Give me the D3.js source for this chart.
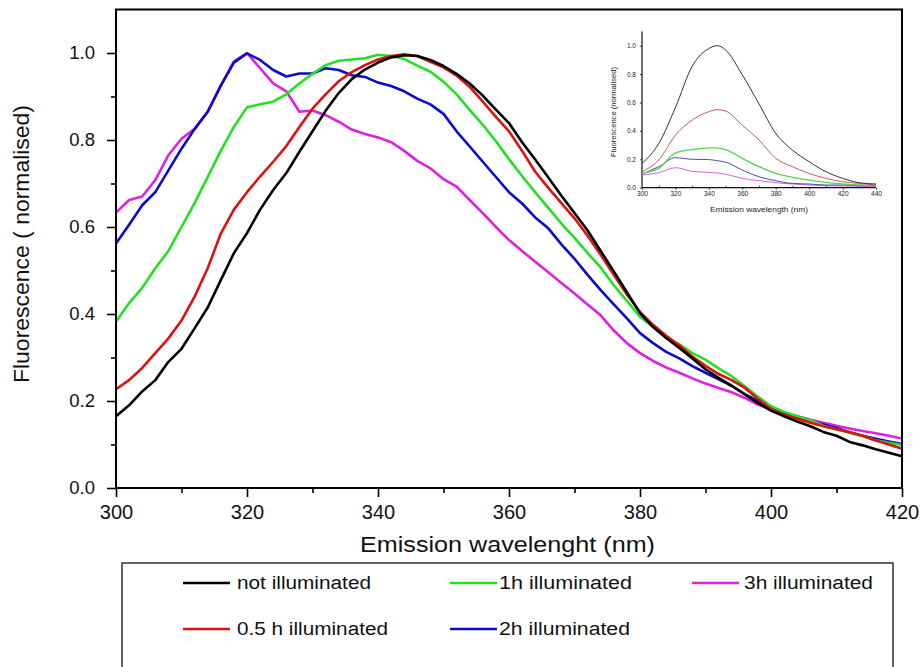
<!DOCTYPE html>
<html><head><meta charset="utf-8">
<script src="https://cdn.jsdelivr.net/npm/d3@7/dist/d3.min.js"></script>
<style>body{margin:0;background:#fff;} svg{display:block;font-family:Arial,"Liberation Sans",sans-serif;}</style>
</head><body><svg id="c" width="922" height="667"></svg>
<script>
// ---------- main chart data ----------
const wavelengths = [300,302,304,306,308,310,312,314,316,318,320,322,324,326,328,330,332,334,336,338,340,342,344,346,348,350,352,354,356,358,360,362,364,366,368,370,372,374,376,378,380,382,384,386,388,390,392,394,396,398,400,402,404,406,408,410,412,414,416,418,420];
const notIlluminated = [0.165,0.19,0.222,0.248,0.29,0.32,0.367,0.415,0.478,0.54,0.586,0.64,0.685,0.724,0.773,0.82,0.867,0.908,0.94,0.962,0.978,0.99,0.995,0.993,0.984,0.97,0.952,0.93,0.902,0.87,0.839,0.795,0.755,0.714,0.672,0.632,0.592,0.545,0.498,0.45,0.402,0.37,0.345,0.322,0.298,0.273,0.253,0.235,0.215,0.195,0.178,0.165,0.153,0.142,0.129,0.12,0.106,0.098,0.089,0.081,0.073];
const illum05h = [0.227,0.248,0.276,0.31,0.344,0.385,0.44,0.505,0.585,0.64,0.68,0.716,0.75,0.786,0.83,0.872,0.905,0.935,0.956,0.972,0.985,0.993,0.997,0.993,0.98,0.967,0.948,0.922,0.888,0.853,0.82,0.775,0.727,0.69,0.655,0.62,0.58,0.536,0.49,0.445,0.405,0.375,0.35,0.328,0.302,0.281,0.262,0.248,0.23,0.205,0.182,0.168,0.16,0.15,0.142,0.135,0.128,0.12,0.109,0.1,0.09];
const illum1h = [0.382,0.425,0.46,0.505,0.545,0.6,0.655,0.715,0.775,0.83,0.875,0.882,0.888,0.905,0.93,0.952,0.972,0.982,0.985,0.988,0.996,0.993,0.986,0.971,0.957,0.934,0.905,0.869,0.835,0.797,0.756,0.717,0.68,0.644,0.608,0.575,0.54,0.507,0.466,0.43,0.394,0.37,0.345,0.33,0.31,0.295,0.275,0.257,0.234,0.21,0.188,0.175,0.165,0.155,0.143,0.135,0.127,0.119,0.11,0.104,0.099];
const illum2h = [0.562,0.605,0.65,0.68,0.73,0.78,0.825,0.865,0.925,0.978,0.999,0.984,0.961,0.946,0.953,0.953,0.965,0.961,0.949,0.945,0.932,0.924,0.912,0.895,0.882,0.86,0.82,0.785,0.75,0.715,0.68,0.654,0.622,0.597,0.56,0.527,0.49,0.455,0.422,0.39,0.356,0.333,0.313,0.298,0.28,0.265,0.25,0.235,0.216,0.2,0.183,0.17,0.16,0.152,0.146,0.138,0.128,0.12,0.113,0.107,0.101];
const illum3h = [0.633,0.662,0.67,0.708,0.765,0.803,0.826,0.865,0.925,0.981,1.0,0.965,0.93,0.912,0.865,0.868,0.857,0.842,0.824,0.814,0.806,0.795,0.775,0.752,0.735,0.71,0.693,0.662,0.632,0.6,0.57,0.545,0.52,0.496,0.471,0.447,0.422,0.397,0.362,0.333,0.31,0.292,0.277,0.265,0.252,0.24,0.23,0.22,0.207,0.192,0.181,0.172,0.165,0.157,0.15,0.143,0.137,0.131,0.126,0.12,0.114];
const seriesNames = ["not illuminated","0.5 h illuminated","1h illuminated","2h illuminated","3h illuminated"];
const seriesColors = ["#000000","#e01010","#22e022","#0a0acc","#e020e0"];
const xMajorTicks = [300,320,340,360,380,400,420];
const xMinorTicks = [310,330,350,370,390,410];
const yMajorTicks = [0.0,0.2,0.4,0.6,0.8,1.0];
const yMinorTicks = [0.1,0.3,0.5,0.7,0.9];

// ---------- inset data ----------
const insetWavelengths = [300,310,320,330,340,345,350,360,370,380,390,400,410,420,430,440];
const insetNot = [0.171,0.31,0.565,0.855,0.98,1.0,0.97,0.795,0.59,0.383,0.265,0.183,0.113,0.066,0.035,0.026];
const inset05h = [0.113,0.195,0.37,0.476,0.535,0.55,0.54,0.44,0.336,0.207,0.148,0.1,0.066,0.042,0.03,0.019];
const inset1h = [0.101,0.136,0.245,0.268,0.28,0.28,0.268,0.207,0.148,0.101,0.073,0.054,0.038,0.026,0.019,0.014];
const inset2h = [0.096,0.148,0.211,0.2,0.198,0.19,0.18,0.124,0.077,0.049,0.03,0.026,0.019,0.019,0.016,0.014];
const inset3h = [0.089,0.106,0.141,0.115,0.108,0.104,0.095,0.066,0.049,0.035,0.026,0.019,0.014,0.012,0.009,0.007];
const insetColors = ["#1a1a1a","#c84848","#4cd84c","#3a3aa8","#cc55cc"];
const insetXTicks = [300,320,340,360,380,400,420,440];
const insetXMinor = [310,330,350,370,390,410,430];
const insetYTicks = [0.0,0.2,0.4,0.6,0.8,1.0];

const svg = d3.select("#c");
const x = d3.scaleLinear().domain([300,420]).range([116,902]);
const y = d3.scaleLinear().domain([0,1.1]).range([488,9.5]);

// axes
const gxMinor = svg.append("g").attr("transform","translate(0,488)")
  .call(d3.axisBottom(x).tickValues(xMinorTicks).tickSize(5).tickSizeOuter(0).tickFormat(""));
const gx = svg.append("g").attr("transform","translate(0,488)")
  .call(d3.axisBottom(x).tickValues(xMajorTicks).tickSize(9).tickSizeOuter(0).tickPadding(8).tickFormat(d3.format("d")));
const gyMinor = svg.append("g").attr("transform","translate(116,0)")
  .call(d3.axisLeft(y).tickValues(yMinorTicks).tickSize(5).tickSizeOuter(0).tickFormat(""));
const gy = svg.append("g").attr("transform","translate(116,0)")
  .call(d3.axisLeft(y).tickValues(yMajorTicks).tickSize(9).tickSizeOuter(0).tickPadding(12).tickFormat(d3.format(".1f")));
[gxMinor,gx,gyMinor,gy].forEach(g=>{
  g.select(".domain").remove();
  g.selectAll(".tick line").attr("stroke","#000").attr("stroke-width",1.6);
});
gx.selectAll(".tick text").attr("font-size",20).attr("fill","#111").attr("font-family","Arial,'Liberation Sans',sans-serif");
gy.selectAll(".tick text").attr("font-size",18.5).attr("fill","#111").attr("font-family","Arial,'Liberation Sans',sans-serif");

// lines
const line = d3.line().x((d,i)=>x(wavelengths[i])).y(d=>y(d));
const allSeries = [notIlluminated, illum05h, illum1h, illum2h, illum3h];
const drawOrder = [4,3,2,1,0];
drawOrder.forEach(k=>{
  svg.append("path").datum(allSeries[k]).attr("d",line)
    .attr("fill","none").attr("stroke",seriesColors[k]).attr("stroke-width",2.6)
    .attr("stroke-linejoin","round");
});

// frame
svg.append("rect").attr("x",x(300)).attr("y",y(1.1)).attr("width",x(420)-x(300)).attr("height",y(0)-y(1.1))
  .attr("fill","none").attr("stroke","#000").attr("stroke-width",2);

// titles
svg.append("text").attr("x",360).attr("y",552).attr("font-size",22).attr("fill","#111")
  .attr("textLength",295).attr("lengthAdjust","spacingAndGlyphs").text("Emission wavelenght (nm)");
svg.append("text").attr("transform","translate(29,244) rotate(-90)").attr("text-anchor","middle")
  .attr("font-size",22).attr("fill","#111").attr("textLength",278).attr("lengthAdjust","spacingAndGlyphs")
  .text("Fluorescence ( normalised)");

// legend
svg.append("rect").attr("x",122).attr("y",563).attr("width",771).attr("height",130)
  .attr("fill","none").attr("stroke","#333").attr("stroke-width",1.5);
const legendItems = [
  {k:0, lx:183, tx:237, ly:583, len:134},
  {k:2, lx:450, tx:499, ly:583, len:133},
  {k:4, lx:692, tx:744, ly:583, len:129},
  {k:1, lx:183, tx:237, ly:629, len:151},
  {k:3, lx:450, tx:499, ly:629, len:131}
];
legendItems.forEach(it=>{
  svg.append("line").attr("x1",it.lx).attr("x2",it.lx+47).attr("y1",it.ly).attr("y2",it.ly)
    .attr("stroke",seriesColors[it.k]).attr("stroke-width",2.6);
  svg.append("text").attr("x",it.tx).attr("y",it.ly+6).attr("font-size",18).attr("fill","#111")
    .attr("textLength",it.len).attr("lengthAdjust","spacingAndGlyphs").text(seriesNames[it.k]);
});

// ---------- inset ----------
const xi = d3.scaleLinear().domain([300,440]).range([642,876]);
const yi = d3.scaleLinear().domain([0,1.0]).range([187.7,45.7]);
const gi = svg.append("g");
gi.append("line").attr("x1",xi(300)).attr("x2",xi(300)).attr("y1",yi(0)).attr("y2",yi(1.1)).attr("stroke","#111").attr("stroke-width",1.2);
gi.append("line").attr("x1",xi(300)).attr("x2",xi(440)).attr("y1",yi(0)).attr("y2",yi(0)).attr("stroke","#111").attr("stroke-width",1.2);
const gix = gi.append("g").attr("transform",`translate(0,${yi(0)})`)
  .call(d3.axisBottom(xi).tickValues(insetXTicks).tickSize(2).tickSizeOuter(0).tickPadding(2).tickFormat(d3.format("d")));
const gixm = gi.append("g").attr("transform",`translate(0,${yi(0)})`)
  .call(d3.axisBottom(xi).tickValues(insetXMinor).tickSize(-2).tickSizeOuter(0).tickFormat(""));
const giy = gi.append("g").attr("transform",`translate(${xi(300)},0)`)
  .call(d3.axisLeft(yi).tickValues(insetYTicks).tickSize(2).tickSizeOuter(0).tickPadding(4).tickFormat(d3.format(".1f")));
[gix,gixm,giy].forEach(g=>{
  g.select(".domain").remove();
  g.selectAll(".tick line").attr("stroke","#111").attr("stroke-width",0.8);
  g.selectAll(".tick text").attr("font-size",6.5).attr("fill","#222").attr("font-family","Arial,'Liberation Sans',sans-serif");
});
const insetSeries = [insetNot, inset05h, inset1h, inset2h, inset3h];
const iline = d3.line().x((d,i)=>xi(insetWavelengths[i])).y(d=>yi(d)).curve(d3.curveMonotoneX);
[4,3,2,1,0].forEach(k=>{
  gi.append("path").datum(insetSeries[k]).attr("d",iline).attr("fill","none")
    .attr("stroke",insetColors[k]).attr("stroke-width",k===2?1.3:0.9);
});
gi.append("text").attr("x",759).attr("y",211.5).attr("text-anchor","middle").attr("font-size",7.5).attr("fill","#222")
  .attr("textLength",98).attr("lengthAdjust","spacingAndGlyphs").text("Emission wavelength (nm)");
gi.append("text").attr("transform","translate(615.5,112) rotate(-90)").attr("text-anchor","middle")
  .attr("font-size",7.5).attr("fill","#222").attr("textLength",90).attr("lengthAdjust","spacingAndGlyphs")
  .text("Fluorescence (normalised)");
</script></body></html>
